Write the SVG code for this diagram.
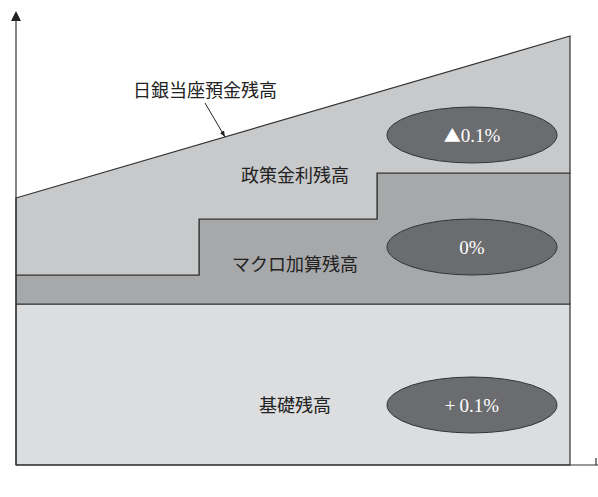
<svg xmlns="http://www.w3.org/2000/svg" width="598" height="497" viewBox="0 0 598 497">
<defs>
<style>
.lbl{font-family:"Liberation Serif","Noto Sans CJK JP",serif;font-size:18px;fill:#222;text-anchor:middle}
.val{font-family:"Liberation Serif","Noto Sans CJK JP",serif;font-size:19px;fill:#fff;text-anchor:middle}
.tri{font-family:"Noto Sans CJK JP",sans-serif;font-size:17px}
.reg{stroke:#333;stroke-width:1.2}
.ell{fill:#6b6c6f;stroke:#333;stroke-width:1}
.ax{stroke:#333;stroke-width:1.2;fill:none}
</style>
<marker id="ah" viewBox="0 0 10 10" refX="10" refY="5" markerWidth="6" markerHeight="6" orient="auto">
<path d="M0,1 L10,5 L0,9 Z" fill="#222"/>
</marker>
</defs>
<rect width="598" height="497" fill="#fff"/>
<g id="base">
<rect class="reg" x="16" y="304" width="554" height="161" fill="#dcdddf"/>
<text class="lbl" x="295" y="412">基礎残高</text>
</g>
<g id="macro">
<polygon class="reg" points="16,275 199,275 199,219 377,219 377,173 570,173 570,304 16,304" fill="#a7a8aa"/>
<text class="lbl" x="295" y="271">マクロ加算残高</text>
</g>
<g id="policy">
<polygon class="reg" points="16,198 570,36 570,173 377,173 377,219 199,219 199,275 16,275" fill="#c8c9cb"/>
<text class="lbl" x="295" y="182">政策金利残高</text>
</g>
<g id="current">
<text class="lbl" x="205" y="97">日銀当座預金残高</text>
</g>
<g id="oval1">
<ellipse class="ell" cx="472" cy="135" rx="85" ry="28"/>
<text class="val" x="472" y="142"><tspan class="tri">▲</tspan>0.1%</text>
</g>
<g id="oval2">
<ellipse class="ell" cx="472" cy="247" rx="85" ry="28"/>
<text class="val" x="472" y="254">0%</text>
</g>
<g id="oval3">
<ellipse class="ell" cx="472" cy="405" rx="85" ry="28"/>
<text class="val" x="472" y="412">+<tspan dx="4">0.1%</tspan></text>
</g>
<g id="connectors">
<line x1="205" y1="103" x2="225" y2="137" stroke="#222" stroke-width="1" marker-end="url(#ah)"/>
<line class="ax" x1="16" y1="465" x2="16" y2="20"/>
<polygon points="11,21 16,11 21,21" fill="#222"/>
<line class="ax" x1="16" y1="465" x2="598" y2="465"/>
<line class="ax" x1="596" y1="458" x2="596" y2="465"/>
</g>
</svg>
